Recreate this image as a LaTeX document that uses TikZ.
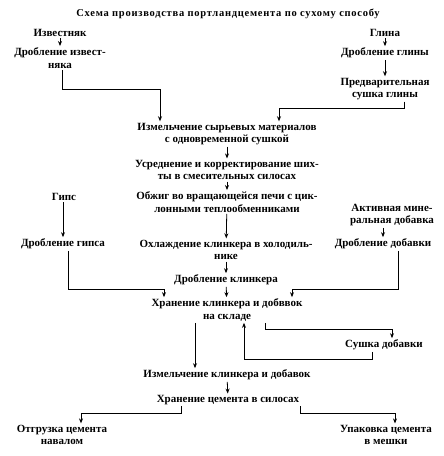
\documentclass[tikz,border=0pt]{standalone}
\usepackage{fontspec}
\setmainfont{Liberation Serif}
\newfontfamily\titlefont[LetterSpace=7]{Liberation Serif}
\usepackage{tikz}
\usetikzlibrary{arrows.meta, positioning}
\tikzset{
  stage/.style={align=center, inner sep=1.5pt, text=black,
    font=\bfseries\fontsize{11}{12.5}\selectfont},
  arrow/.style={-{Stealth[length=5pt,width=4pt]}, line width=0.8pt},
}

\begin{document}
\begin{tikzpicture}[x=1pt, y=-1pt]
  \fill[white] (0,0) rectangle (444,456);
  \useasboundingbox (0,0) rectangle (444,456);
  \node[stage, font=\titlefont\bfseries\fontsize{10.5}{12}\selectfont] (title) at (228,14) {Схема производства портландцемента по сухому способу};
  \node[stage] (izv) at (60,33) {Известняк};
  \node[stage] (dizv) at (60,58) {Дробление извест-\\няка};
  \node[stage] (gl) at (385,33) {Глина};
  \node[stage] (dgl) at (385,53) {Дробление глины};
  \node[stage] (psg) at (385,89) {Предварительная\\сушка глины};
  \node[stage] (izm) at (227,134) {Измельчение сырьевых материалов\\с одновременной сушкой};
  \node[stage] (usr) at (227,170) {Усреднение и корректирование ших-\\ты в смесительных силосах};
  \node[stage] (obj) at (227,202) {Обжиг во вращающейся печи с цик-\\лонными теплообменниками};
  \node[stage] (gips) at (64,197) {Гипс};
  \node[stage] (act) at (392,215) {Активная мине-\\ральная добавка};
  \node[stage] (dgips) at (63,244) {Дробление гипса};
  \node[stage] (ohl) at (226,250) {Охлаждение клинкера в холодиль-\\нике};
  \node[stage] (ddob) at (383,244) {Дробление добавки};
  \node[stage] (dkl) at (226,280) {Дробление клинкера};
  \node[stage] (xr) at (227,310) {Хранение клинкера и добввок\\на складе};
  \node[stage] (sd) at (384,345) {Сушка добавки};
  \node[stage] (izmk) at (227,375) {Измельчение клинкера и добавок};
  \node[stage] (xc) at (228,400) {Хранение цемента в силосах};
  \node[stage] (otg) at (62,435) {Отгрузка цемента\\навалом};
  \node[stage] (upk) at (386,435) {Упаковка цемента\\в мешки};
  \coordinate (k1) at (160,89);
  \coordinate (k2) at (279,108);
  \coordinate (k3) at (164,289);
  \coordinate (k4) at (292,289);
  \coordinate (k5) at (195,330);
  \coordinate (k6) at (244,359);
  \coordinate (r1) at (265,329);
  \coordinate (r2) at (392,329);
  \coordinate (c1) at (181,413);
  \coordinate (c2) at (81,413);
  \coordinate (c3) at (300,413);
  \coordinate (c4) at (395,413);
  \draw[arrow] (izv) -- (dizv);
  \draw[arrow] (gl) -- (dgl);
  \draw[arrow] (dgl) -- (psg);
  \draw[arrow] ([xshift=2pt]dizv.south) |- (k1) -- (k1 |- izm.north);
  \draw[arrow] ([xshift=19pt]psg.south) |- (k2) -- (k2 |- izm.north);
  \draw[arrow] (izm) -- (usr);
  \draw[arrow] (usr) -- (obj);
  \draw[arrow] (obj) -- (ohl);
  \draw[arrow] (gips.south -| dgips.north) -- (dgips);
  \draw[arrow] (act.south -| ddob.north) -- (ddob);
  \draw[arrow] (ohl) -- (dkl);
  \draw[arrow] (dkl) -- (xr);
  \draw[arrow] ([xshift=5pt]dgips.south) |- (k3) -- (k3 |- xr.north);
  \draw[arrow] ([xshift=15pt]ddob.south) |- (k4) -- (k4 |- xr.north);
  \draw[arrow] (xr.south -| k5) -- (k5 |- izmk.north);
  \draw[arrow] ([xshift=-12pt]sd.south) |- (k6) -- (k6 |- xr.south);
  \draw[arrow] (xr.south -| r1) -- (r1) -- (r2) -- (r2 |- sd.north);
  \draw[arrow] (izmk) -- (xc);
  \draw[arrow] (xc.south -| c1) -- (c1) -- (c2) -- (c2 |- otg.north);
  \draw[arrow] (xc.south -| c3) -- (c3) -- (c4) -- (c4 |- upk.north);
\end{tikzpicture}
\end{document}
